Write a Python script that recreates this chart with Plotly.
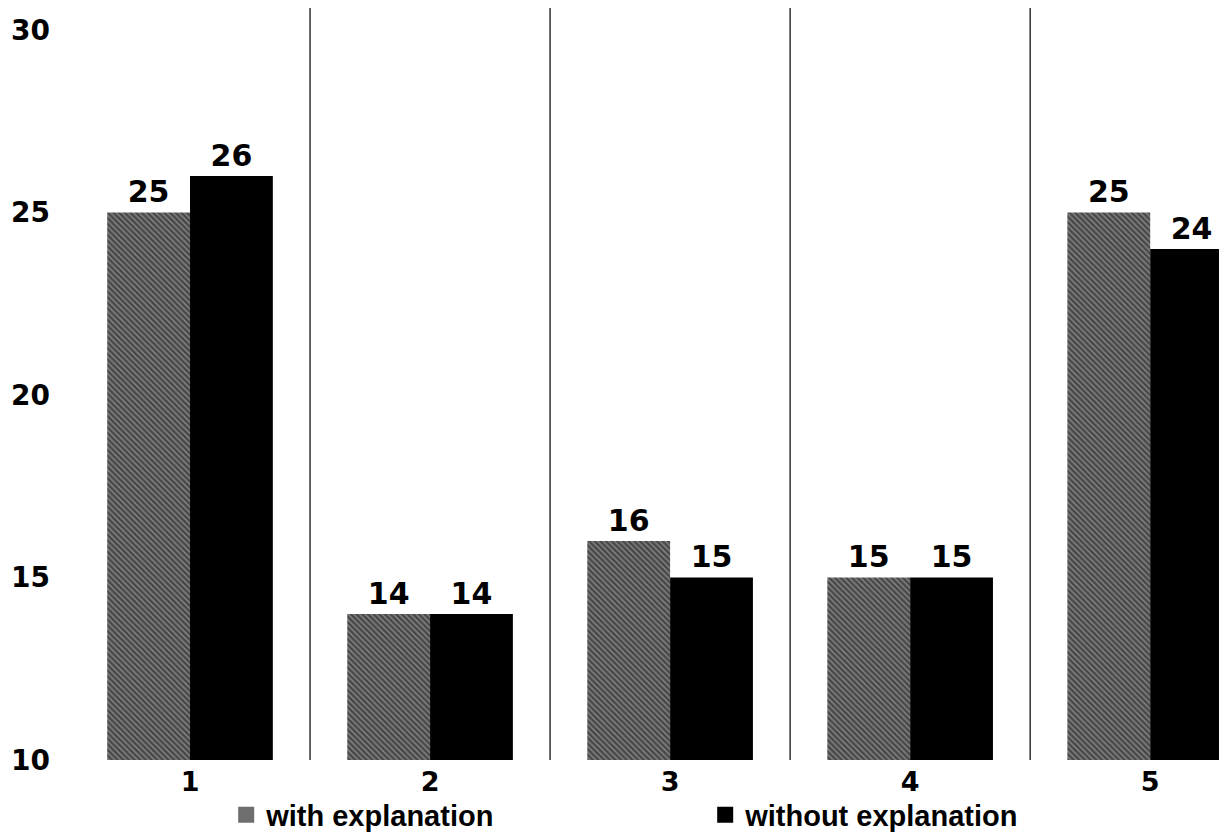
import plotly.graph_objects as go

categories = ['1', '2', '3', '4', '5']
with_explanation = [25, 14, 16, 15, 25]
without_explanation = [26, 14, 15, 15, 24]
y_ticks = [10, 15, 20, 25, 30]
series_names = ['with explanation', 'without explanation']

font = dict(family='DejaVu Sans, Liberation Sans, Arial, sans-serif', color='black', weight='bold')
legend_font = dict(family='Liberation Sans, Arial, Helvetica, sans-serif', color='black',
                   weight='bold', size=29)

grey_marker = dict(color='#4a4a4a', line=dict(width=0),
                   pattern=dict(shape='\\', fgcolor='#c8c8c8', bgcolor='#484848',
                                size=4, solidity=0.35))

data = [
    go.Bar(x=categories, y=with_explanation, name=series_names[0],
           text=with_explanation, textposition='outside', cliponaxis=False,
           constraintext='none', showlegend=False,
           textfont=dict(size=30, **font), marker=grey_marker),
    go.Bar(x=categories, y=without_explanation, name=series_names[1],
           text=without_explanation, textposition='outside', cliponaxis=False,
           constraintext='none', showlegend=False,
           textfont=dict(size=30, **font),
           marker=dict(color='black', line=dict(width=0))),
    # legend-only entries with bigger square keys
    go.Scatter(x=[None], y=[None], mode='markers', name=series_names[0], legend='legend',
               marker=dict(symbol='square', size=18, color='#6e6e6e')),
    go.Scatter(x=[None], y=[None], mode='markers', name=series_names[1], legend='legend2',
               marker=dict(symbol='square', size=18, color='black')),
]

# thin vertical separators between groups
shapes = [dict(type='line', xref='x', yref='paper', x0=i + 0.5, x1=i + 0.5,
               y0=0, y1=1.01, line=dict(color='#111', width=1.3))
          for i in range(len(categories) - 1)]

legend_common = dict(orientation='h', y=-0.073, yanchor='middle', xanchor='left',
                     font=legend_font, bgcolor='rgba(0,0,0,0)', itemsizing='trace')

layout = go.Layout(
    width=1227, height=838,
    margin=dict(l=62, r=8, t=0, b=86, autoexpand=False),
    paper_bgcolor='white', plot_bgcolor='white',
    barmode='group', bargap=0.31, bargroupgap=0,
    xaxis=dict(range=[-0.5, 4.32], showgrid=False, showline=False, zeroline=False,
               ticks='', tickfont=dict(size=27, **font), ticklabelstandoff=3,
               automargin=False),
    yaxis=dict(range=[10, 30.6], tickvals=y_ticks, showgrid=False, showline=False,
               zeroline=False, ticks='', tickfont=dict(size=28, **font),
               ticklabelstandoff=19, automargin=False),
    showlegend=True,
    legend=dict(x=0.135, **legend_common),
    legend2=dict(x=0.549, **legend_common),
    shapes=shapes,
)

fig = go.Figure(data=data, layout=layout)
fig.write_html("out.html")
